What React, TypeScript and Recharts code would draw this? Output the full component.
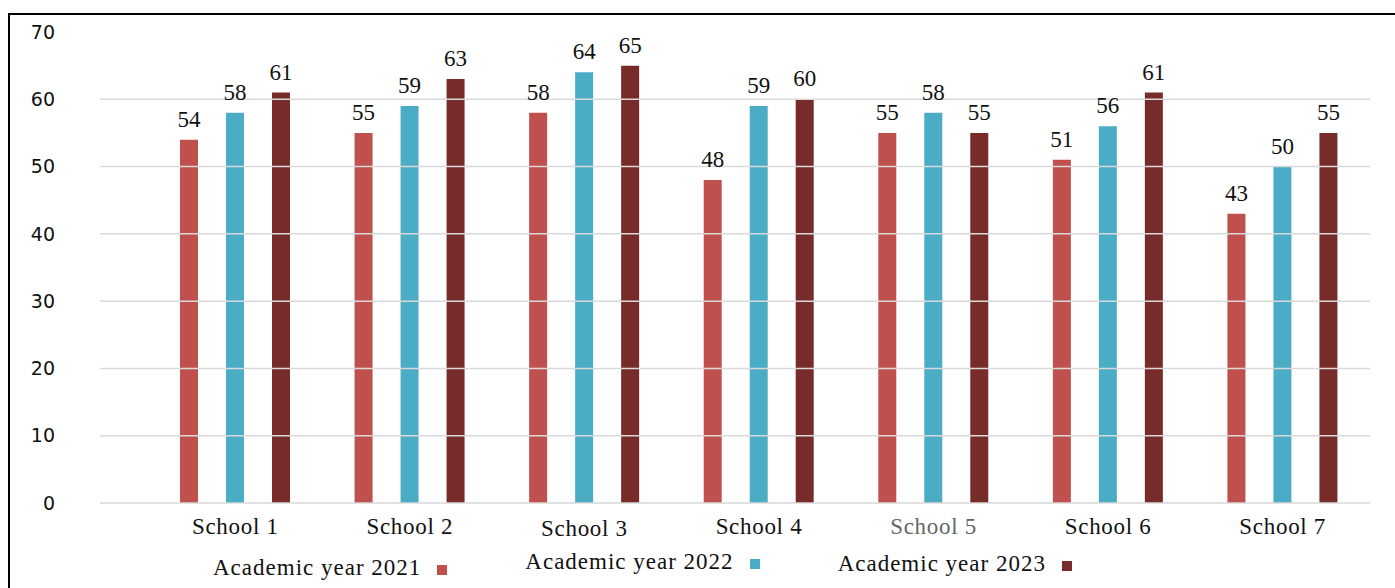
import React from "react";
import { BarChart, Bar, XAxis, YAxis, ReferenceLine, LabelList } from "recharts";

const schools = ["School 1", "School 2", "School 3", "School 4", "School 5", "School 6", "School 7"];
const year2021 = [54, 55, 58, 48, 55, 51, 43];
const year2022 = [58, 59, 64, 59, 58, 56, 50];
const year2023 = [61, 63, 65, 60, 55, 61, 55];
const yTicks = [0, 10, 20, 30, 40, 50, 60, 70];
const gridValues = [0, 10, 20, 30, 40, 50, 60];

const series = [
  { key: "y2021", name: "Academic year 2021", color: "#C0504D", values: year2021 },
  { key: "y2022", name: "Academic year 2022", color: "#4BACC6", values: year2022 },
  { key: "y2023", name: "Academic year 2023", color: "#772C2A", values: year2023 },
];

const data = schools.map((s, i) => {
  const row: Record<string, string | number> = { school: s };
  series.forEach((se) => (row[se.key] = se.values[i]));
  return row;
});

const SERIF = "'Liberation Serif', 'Times New Roman', serif";

function SchoolTick(props: any) {
  const { x, y, payload } = props;
  const v = payload.value as string;
  return (
    <text
      x={x}
      y={y}
      dy={v === "School 3" ? 31 : 29}
      textAnchor="middle"
      fontFamily={SERIF}
      fontSize={23}
      letterSpacing={0.7}
      fill={v === "School 5" ? "#666" : "#111"}
    >
      {v}
    </text>
  );
}

function ValueLabel(props: any) {
  const { x, y, width, value } = props;
  return (
    <text
      x={x + width / 2}
      y={y - 13}
      textAnchor="middle"
      fontFamily={SERIF}
      fontSize={23}
      fill="#111"
    >
      {value}
    </text>
  );
}

export default function App() {
  return (
    <div
      style={{
        position: "fixed",
        left: 0,
        top: 0,
        width: 1395,
        height: 588,
        overflow: "hidden",
        background: "#fff",
      }}
    >
      <div
        style={{
          position: "absolute",
          left: 8,
          top: 13,
          width: 1420,
          height: 620,
          border: "2px solid #000",
        }}
      />
      <div style={{ position: "absolute", left: 0, top: 0 }}>
        <BarChart
          width={1395}
          height={588}
          data={data}
          margin={{ top: 32, right: 25, bottom: 55, left: 8 }}
          barSize={18}
          barGap={28}
        >
          {gridValues.map((v) => (
            <ReferenceLine key={v} y={v} stroke="#D9D9D9" strokeWidth={1.5} />
          ))}
          <XAxis
            dataKey="school"
            axisLine={false}
            tickLine={false}
            tickSize={0}
            height={30}
            padding={{ left: 48, right: 0 }}
            tick={<SchoolTick />}
            interval={0}
          />
          <YAxis
            domain={[0, 70]}
            ticks={yTicks}
            width={92}
            axisLine={false}
            tickLine={false}
            tickSize={0}
            tickMargin={45}
            tick={{ fontFamily: "'DejaVu Sans', sans-serif", fontSize: 19, fill: "#111" }}
          />
          {series.map((se) => (
            <Bar key={se.key} dataKey={se.key} name={se.name} fill={se.color} isAnimationActive={false}>
              <LabelList dataKey={se.key} content={<ValueLabel />} />
            </Bar>
          ))}
        </BarChart>
      </div>
      <div
        style={{
          position: "absolute",
          left: 213,
          top: 555,
          display: "flex",
          alignItems: "center",
          fontFamily: SERIF,
          fontSize: 23,
          letterSpacing: 1,
          color: "#111",
          whiteSpace: "nowrap",
        }}
      >
        {series.map((se, i) => (
          <div
            key={se.key}
            style={{
              display: "flex",
              alignItems: "center",
              marginLeft: i === 0 ? 0 : 78,
              position: "relative",
              top: i === 1 ? -6 : i === 2 ? -4 : 0,
            }}
          >
            <span>{se.name}</span>
            <span
              style={{
                display: "inline-block",
                width: 10,
                height: 10,
                background: se.color,
                marginLeft: 16,
                marginTop: 4,
              }}
            />
          </div>
        ))}
      </div>
    </div>
  );
}
